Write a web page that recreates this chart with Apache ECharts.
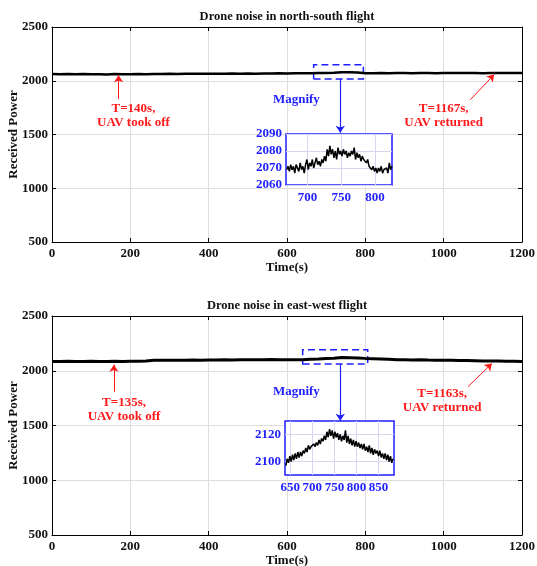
<!DOCTYPE html>
<html>
<head>
<meta charset="utf-8">
<script src="https://cdn.jsdelivr.net/npm/echarts@6/dist/echarts.min.js"></script>
<style>
  html, body { margin: 0; padding: 0; background: #fff; }
  #chart { width: 537px; height: 566px; }
</style>
</head>
<body>
<div id="chart"></div>
<script>
// ---- data ----
var titles = ['Drone noise in north-south flight', 'Drone noise in east-west flight'];
var xTicks = [0, 200, 400, 600, 800, 1000, 1200];
var yTicks = [500, 1000, 1500, 2000, 2500];

// main traces, one sample every 20 s from t = 0
var mainStep = 20;
var nsPower = [2062, 2060, 2063, 2061, 2062, 2060, 2061, 2059, 2062, 2060, 2061, 2062, 2060, 2063, 2062, 2064,
  2063, 2065, 2064, 2066, 2065, 2066, 2064, 2067, 2066, 2068, 2066, 2068, 2067, 2069, 2068, 2070, 2069, 2070,
  2071, 2072, 2075, 2079, 2079, 2076, 2070, 2069, 2071, 2070, 2072, 2071, 2070, 2072, 2071, 2070, 2072, 2071,
  2073, 2071, 2072, 2070, 2072, 2071, 2073, 2072, 2071];
var ewPower = [2085, 2084, 2086, 2085, 2084, 2086, 2085, 2084, 2086, 2085, 2087, 2086, 2090, 2095, 2096, 2095,
  2097, 2096, 2098, 2097, 2099, 2098, 2100, 2099, 2101, 2100, 2101, 2100, 2102, 2101, 2100, 2101, 2100, 2104,
  2107, 2111, 2115, 2120, 2119, 2117, 2113, 2110, 2107, 2104, 2101, 2100, 2099, 2100, 2098, 2097, 2096, 2095,
  2094, 2093, 2092, 2090, 2089, 2088, 2087, 2086, 2085];

// magnified windows
var nsZoomStart = 669, nsZoomStep = 2;
var nsZoomPower = [2069, 2071, 2068, 2072, 2069, 2071, 2067, 2072, 2070, 2068, 2073, 2069, 2071, 2067, 2072,
  2075, 2069, 2073, 2071, 2075, 2070, 2073, 2076, 2072, 2074, 2071, 2075, 2073, 2077, 2074, 2081, 2077, 2083,
  2078, 2081, 2076, 2080, 2075, 2082, 2078, 2080, 2077, 2081, 2078, 2080, 2076, 2079, 2077, 2080, 2078, 2082,
  2075, 2079, 2076, 2078, 2074, 2077, 2075, 2076, 2073, 2075, 2071, 2072, 2069, 2071, 2068, 2070, 2067, 2070,
  2068, 2071, 2067, 2069, 2068, 2070, 2067, 2073, 2069, 2071];
var nsZoomX = [700, 750, 800];
var nsZoomY = [2060, 2070, 2080, 2090];

var ewZoomStart = 640, ewZoomStep = 3;
var ewZoomPower = [2097, 2102, 2099, 2104, 2100, 2105, 2101, 2106, 2102, 2107, 2103, 2107, 2104, 2108, 2106,
  2110, 2107, 2112, 2109, 2111, 2110, 2113, 2111, 2114, 2112, 2116, 2113, 2117, 2115, 2119, 2116, 2122, 2118,
  2124, 2119, 2123, 2117, 2122, 2118, 2121, 2116, 2120, 2115, 2119, 2116, 2123, 2114, 2119, 2113, 2117, 2112,
  2116, 2111, 2115, 2111, 2114, 2110, 2113, 2109, 2113, 2108, 2111, 2107, 2112, 2106, 2110, 2105, 2109, 2106,
  2108, 2104, 2108, 2103, 2106, 2102, 2106, 2101, 2105, 2100, 2104, 2099, 2102];
var ewZoomX = [650, 700, 750, 800, 850];
var ewZoomY = [2100, 2120];

// annotations (data coordinates of the main panels)
var nsNotes = [
  { text: 'T=140s,\nUAV took off', at: [208, 1672], from: [170, 1830], to: [170, 2052] },
  { text: 'T=1167s,\nUAV returned', at: [1000, 1672], from: [1068, 1823], to: [1129, 2058] }
];
var ewNotes = [
  { text: 'T=135s,\nUAV took off', at: [184, 1647], from: [158, 1808], to: [158, 2055] },
  { text: 'T=1163s,\nUAV returned', at: [996, 1726], from: [1062, 1854], to: [1123, 2066] }
];
var nsBox = [[668, 2016], [795, 2149]];
var ewBox = [[640, 2061], [806, 2192]];
var nsMagnify = { at: [624, 1828], from: [736, 2016], to: [736, 1517] };
var ewMagnify = { at: [624, 1808], from: [736, 2061], to: [736, 1543] };

// ---- styling ----
var FONT = "'Liberation Serif', 'Times New Roman', serif";
var RED = '#ff1a1a';
var BLUE = '#1f1fff';

function pairs(start, step, vals) {
  return vals.map(function (v, i) { return [start + i * step, v]; });
}
function plain(v) { return String(v); }

function mainX(gridIndex) {
  return {
    type: 'value', gridIndex: gridIndex, min: xTicks[0], max: xTicks[xTicks.length - 1], interval: 200,
    name: 'Time(s)', nameLocation: 'middle', nameGap: 19, nameMoveOverlap: false,
    nameTextStyle: { fontFamily: FONT, fontWeight: 'bold', fontSize: 13, color: '#111' },
    axisLine: { onZero: false, lineStyle: { color: '#000', width: 1 } },
    axisTick: { inside: true, length: 4, lineStyle: { color: '#000' } },
    axisLabel: { fontFamily: FONT, fontWeight: 'bold', fontSize: 13, color: '#111', margin: 5, formatter: plain },
    splitLine: { show: true, lineStyle: { color: '#dedede', width: 1 } }
  };
}
function mainY(gridIndex) {
  return {
    type: 'value', gridIndex: gridIndex, min: yTicks[0], max: yTicks[yTicks.length - 1], interval: 500,
    name: 'Received Power', nameLocation: 'middle', nameGap: 32, nameMoveOverlap: false,
    nameTextStyle: { fontFamily: FONT, fontWeight: 'bold', fontSize: 13, color: '#111' },
    axisLine: { show: true, onZero: false, lineStyle: { color: '#000', width: 1 } },
    axisTick: { show: true, inside: true, length: 4, lineStyle: { color: '#000' } },
    axisLabel: { fontFamily: FONT, fontWeight: 'bold', fontSize: 13, color: '#111', margin: 4, formatter: plain },
    splitLine: { show: true, lineStyle: { color: '#dedede', width: 1 } }
  };
}
function mirrorX(gridIndex) {
  return {
    type: 'value', gridIndex: gridIndex, min: 0, max: 1200, interval: 200, position: 'top',
    axisLine: { onZero: false, lineStyle: { color: '#000', width: 1 } },
    axisTick: { inside: true, length: 4, lineStyle: { color: '#000' } },
    axisLabel: { show: false }, splitLine: { show: false }
  };
}
function mirrorY(gridIndex) {
  return {
    type: 'value', gridIndex: gridIndex, min: 500, max: 2500, interval: 500, position: 'right',
    axisLine: { show: true, onZero: false, lineStyle: { color: '#000', width: 1 } },
    axisTick: { show: true, inside: true, length: 4, lineStyle: { color: '#000' } },
    axisLabel: { show: false }, splitLine: { show: false }
  };
}
function insetAxis(dim, gridIndex, min, max, ticks) {
  return {
    type: 'value', gridIndex: gridIndex, min: min, max: max, z: 4,
    axisLine: { show: false },
    axisTick: { show: false, customValues: ticks },
    axisLabel: {
      customValues: ticks, fontFamily: FONT, fontWeight: 'bold', fontSize: 13, color: BLUE,
      margin: dim === 'x' ? 6 : 4, formatter: plain
    },
    splitLine: { show: true, lineStyle: { color: '#d4d6f2', width: 1 } }
  };
}

function annotated(data, notes, box, mag, xi, yi) {
  var lines = [];
  var points = [];
  notes.forEach(function (n) {
    lines.push([
      { coord: n.from, lineStyle: { color: RED, width: 1, type: 'solid' } },
      { coord: n.to, lineStyle: { color: RED, width: 1, type: 'solid' }, itemStyle: { color: RED } }
    ]);
    points.push({ coord: n.at, value: n.text, label: { color: RED } });
  });
  lines.push([
    { coord: mag.from, lineStyle: { color: BLUE, width: 1.2, type: 'solid' } },
    { coord: mag.to, lineStyle: { color: BLUE, width: 1.2, type: 'solid' }, itemStyle: { color: BLUE } }
  ]);
  points.push({ coord: mag.at, value: 'Magnify', label: { color: BLUE } });
  return {
    type: 'line', xAxisIndex: xi, yAxisIndex: yi, data: data, showSymbol: false, z: 2,
    lineStyle: { color: '#000', width: yi === 0 ? 2.5 : 3 }, animation: false,
    markArea: {
      silent: true,
      itemStyle: { color: 'rgba(0,0,0,0)', borderColor: BLUE, borderWidth: 1.5, borderType: [7, 4] },
      data: [[{ coord: box[0] }, { coord: box[1] }]]
    },
    markLine: {
      silent: true, symbol: ['none', 'arrow'], symbolSize: 7, animation: false,
      lineStyle: { type: 'solid' },
      label: { show: false }, data: lines
    },
    markPoint: {
      silent: true, symbol: 'circle', symbolSize: 0, animation: false,
      label: {
        show: true, position: 'inside', formatter: '{c}', fontFamily: FONT,
        fontWeight: 'bold', fontSize: 13, lineHeight: 14, align: 'center'
      },
      data: points
    }
  };
}

var chart = echarts.init(document.getElementById('chart'), null, { renderer: 'canvas' });
chart.setOption({
  backgroundColor: '#fff',
  animation: false,
  title: [
    { text: titles[0], left: 287, top: 10, textAlign: 'center', padding: 0,
      textStyle: { fontFamily: FONT, fontWeight: 'bold', fontSize: 12.5, color: '#111' } },
    { text: titles[1], left: 287, top: 299, textAlign: 'center', padding: 0,
      textStyle: { fontFamily: FONT, fontWeight: 'bold', fontSize: 12.5, color: '#111' } }
  ],
  grid: [
    { left: 52, right: 15, top: 27, height: 215, show: false, outerBoundsMode: 'none' },
    { left: 286, top: 134, width: 106, height: 51, show: true, z: 3, outerBoundsMode: 'none',
      backgroundColor: '#fff', borderColor: BLUE, borderWidth: 1.5 },
    { left: 52, right: 15, top: 316, height: 219, show: false, outerBoundsMode: 'none' },
    { left: 285, top: 421, width: 109, height: 54, show: true, z: 3, outerBoundsMode: 'none',
      backgroundColor: '#fff', borderColor: BLUE, borderWidth: 1.5 }
  ],
  xAxis: [
    mainX(0), insetAxis('x', 1, 668, 825, nsZoomX),
    mainX(2), insetAxis('x', 3, 638, 885, ewZoomX),
    mirrorX(0), mirrorX(2)
  ],
  yAxis: [
    mainY(0), insetAxis('y', 1, 2060, 2090, nsZoomY),
    mainY(2), insetAxis('y', 3, 2090, 2130, ewZoomY),
    mirrorY(0), mirrorY(2)
  ],
  series: [
    annotated(pairs(0, mainStep, nsPower), nsNotes, nsBox, nsMagnify, 0, 0),
    { type: 'line', xAxisIndex: 1, yAxisIndex: 1, z: 5, showSymbol: false,
      data: pairs(nsZoomStart, nsZoomStep, nsZoomPower), lineStyle: { color: '#000', width: 1.5 } },
    annotated(pairs(0, mainStep, ewPower), ewNotes, ewBox, ewMagnify, 2, 2),
    { type: 'line', xAxisIndex: 3, yAxisIndex: 3, z: 5, showSymbol: false,
      data: pairs(ewZoomStart, ewZoomStep, ewZoomPower), lineStyle: { color: '#000', width: 1.5 } }
  ]
});
</script>
</body>
</html>
